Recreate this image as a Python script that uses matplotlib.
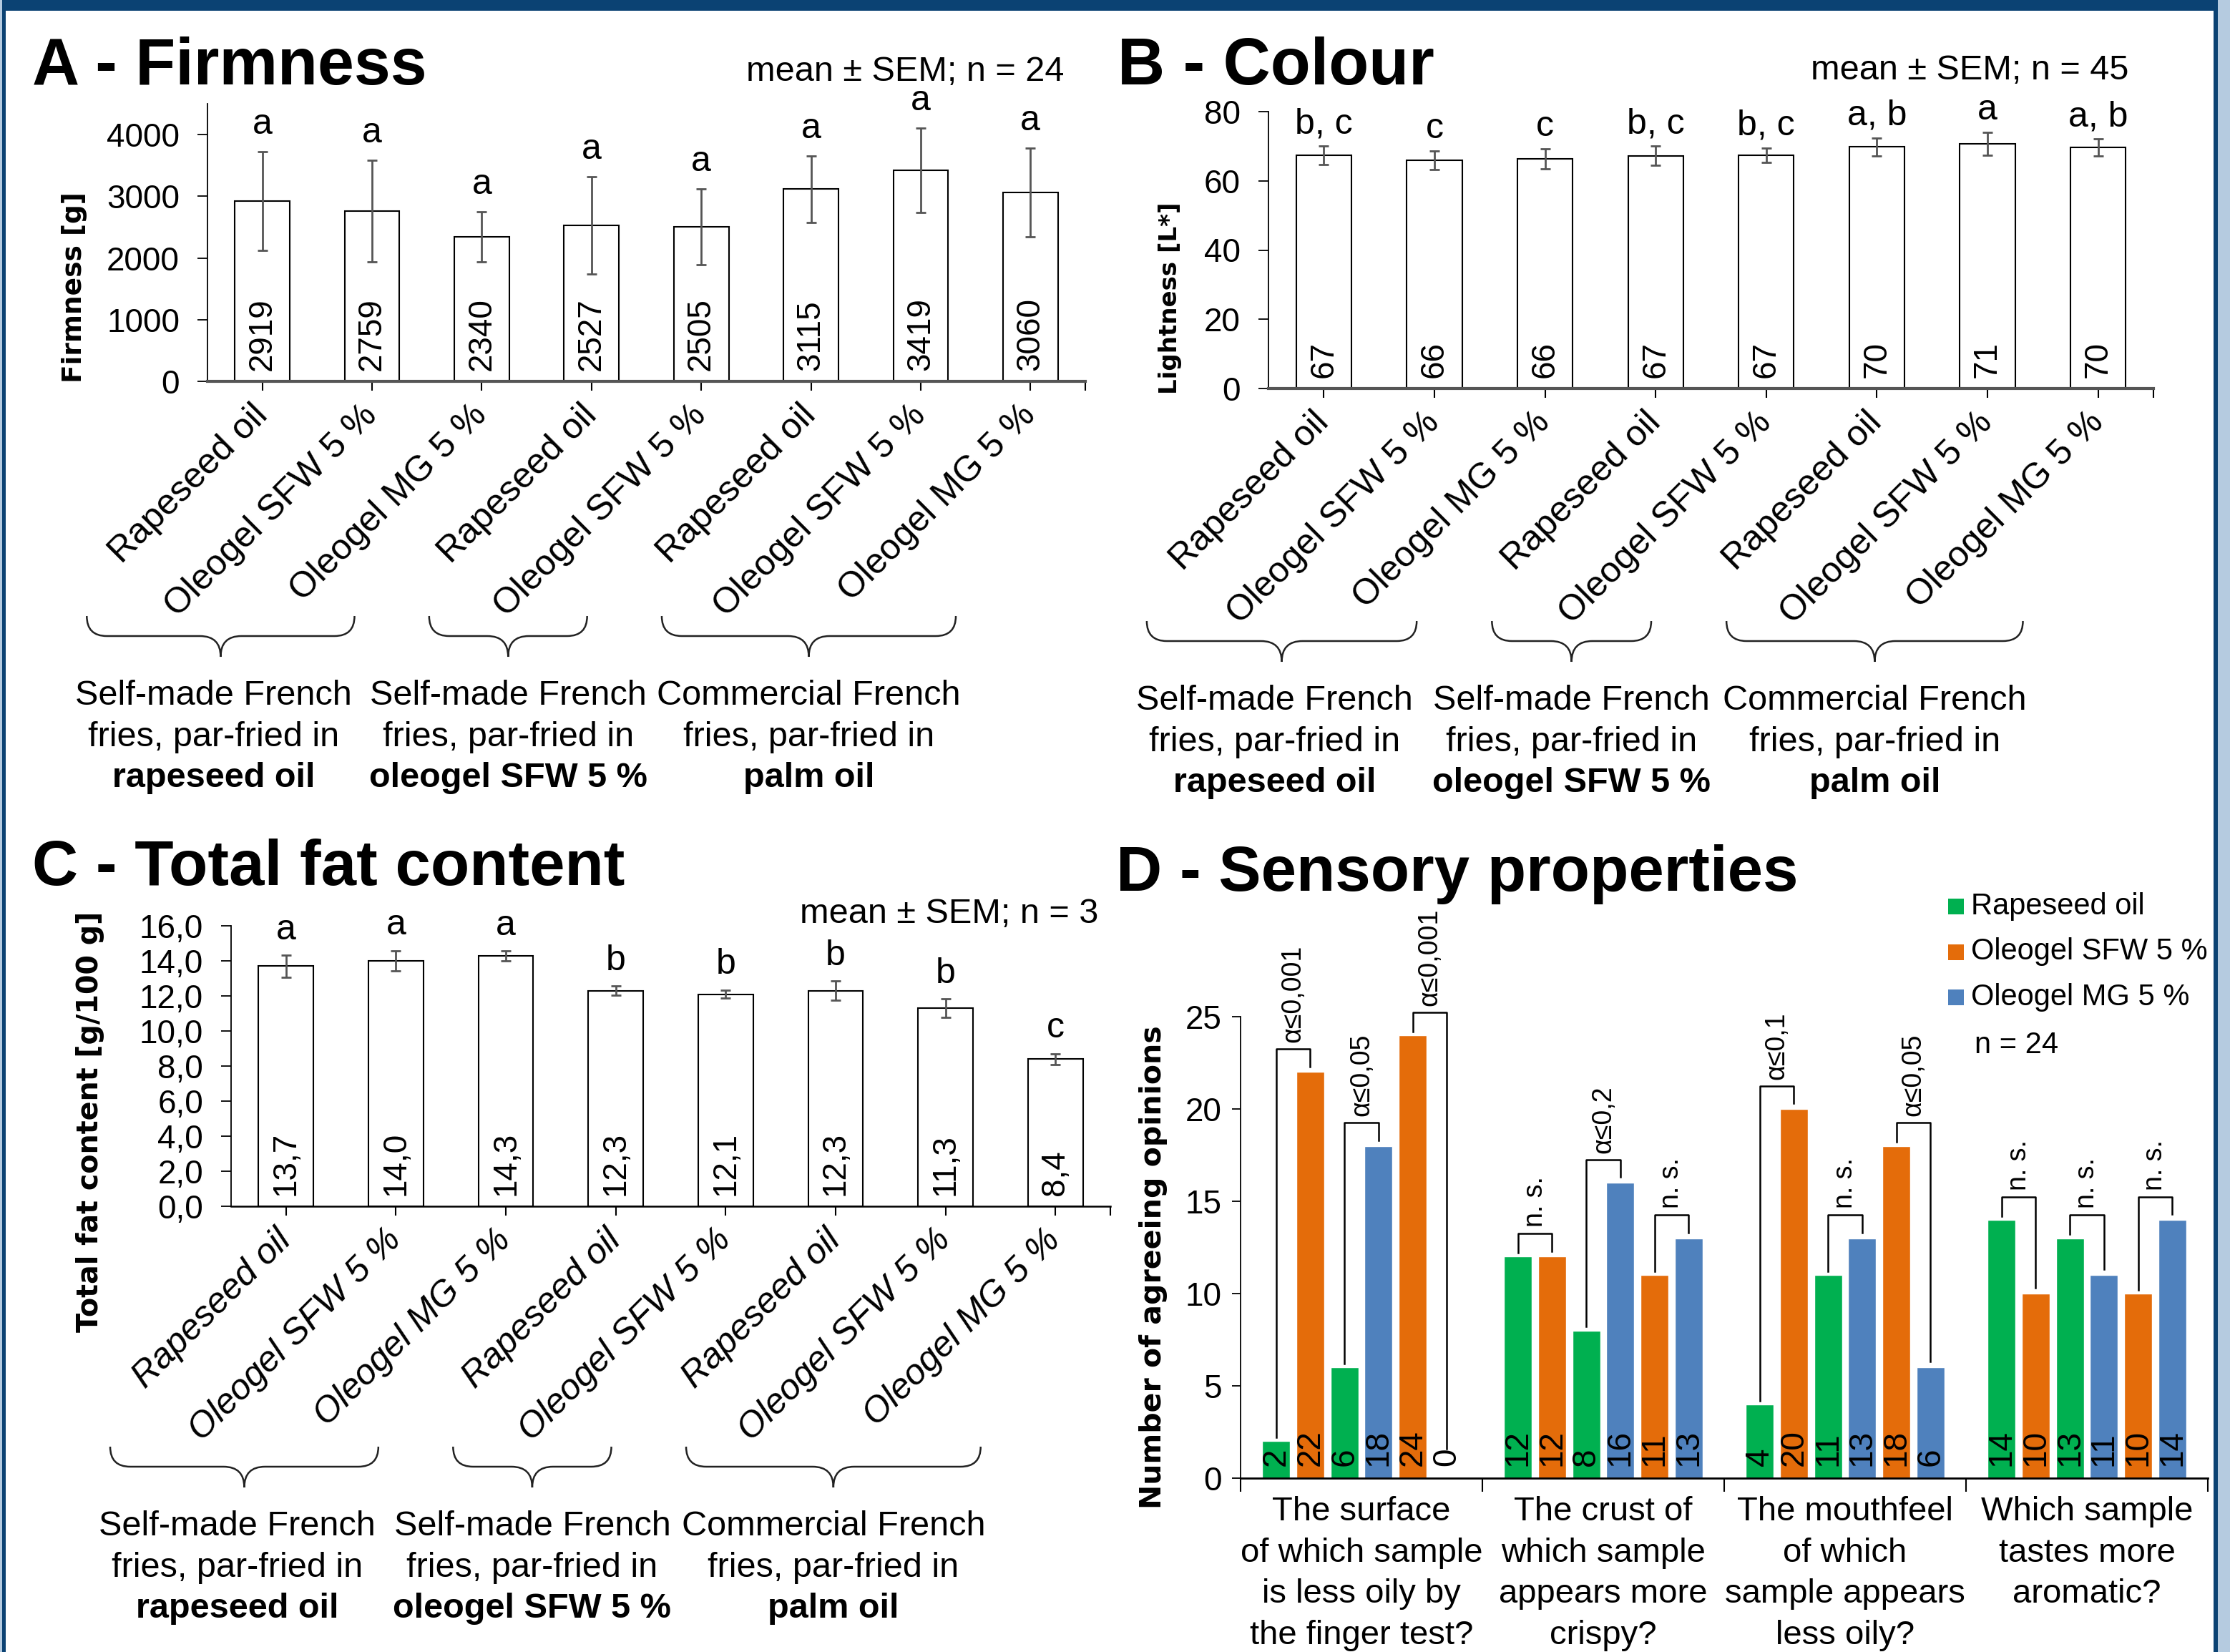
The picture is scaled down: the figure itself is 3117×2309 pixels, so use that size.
import numpy as np
import matplotlib
matplotlib.use('Agg')
import matplotlib.pyplot as plt
from matplotlib.patches import Rectangle, PathPatch
from matplotlib.path import Path

W, H = 3117, 2309
plt.rcParams['font.family'] = ['Liberation Sans', 'DejaVu Sans']
plt.rcParams['axes.linewidth'] = 1.3

# ---- data ----
samples = ['Rapeseed oil', 'Oleogel SFW 5 %', 'Oleogel MG 5 %',
           'Rapeseed oil', 'Oleogel SFW 5 %',
           'Rapeseed oil', 'Oleogel SFW 5 %', 'Oleogel MG 5 %']
group_first = ['Self-made French', 'Self-made French', 'Commercial French']
group_oil = ['rapeseed oil', 'oleogel SFW 5 %', 'palm oil']

firmness = [2919, 2759, 2340, 2527, 2505, 3115, 3419, 3060]
firmness_sem = [800, 820, 405, 785, 610, 540, 685, 720]
firmness_letters = ['a', 'a', 'a', 'a', 'a', 'a', 'a', 'a']

lightness = [67.4, 66.0, 66.4, 67.2, 67.4, 69.8, 70.7, 69.6]
lightness_sem = [2.6, 2.7, 2.9, 2.8, 2.1, 2.6, 3.3, 2.5]
lightness_letters = ['b, c', 'c', 'c', 'b, c', 'b, c', 'a, b', 'a', 'a, b']

fat = [13.7, 14.0, 14.3, 12.3, 12.1, 12.3, 11.3, 8.4]
fat_sem = [0.62, 0.59, 0.28, 0.27, 0.24, 0.56, 0.52, 0.31]
fat_letters = ['a', 'a', 'a', 'b', 'b', 'b', 'b', 'c']

questions = ['The surface\nof which sample\nis less oily by\nthe finger test?',
             'The crust of\nwhich sample\nappears more\ncrispy?',
             'The mouthfeel\nof which\nsample appears\nless oily?',
             'Which sample\ntastes more\naromatic?']
sensory_names = ['Rapeseed oil', 'Oleogel SFW 5 %', 'Oleogel MG 5 %']
sensory_colors = ['#00B050', '#E46C0A', '#4F81BD']
# pairwise tests: (rapeseed vs SFW), (rapeseed vs MG), (SFW vs MG)
rs_rape = [2, 12, 4, 14]
rs_sfw = [22, 12, 20, 10]
rm_rape = [6, 8, 11, 13]
rm_mg = [18, 16, 13, 11]
sm_sfw = [24, 11, 18, 10]
sm_mg = [0, 13, 6, 14]
sig_rs = ['α≤0,001', 'n. s.', 'α≤0,1', 'n. s.']
sig_rm = ['α≤0,05', 'α≤0,2', 'n. s.', 'n. s.']
sig_sm = ['α≤0,001', 'n. s.', 'α≤0,05', 'n. s.']

brace_spans = [(-1.6, 0.84), (1.52, 2.96), (3.64, 6.32)]

fig = plt.figure(figsize=(W / 100, H / 100), dpi=100)
fig.patch.set_facecolor('white')


def fx(x):
    return x / W


def fy(y):
    return 1 - y / H


def axes_px(l, t, r, b):
    return fig.add_axes([l / W, 1 - b / H, (r - l) / W, (b - t) / H])


# frame of the poster
dark = '#0b4273'
light = '#b5cbe0'
fig.add_artist(Rectangle((0, fy(15)), 1, 15 / H, transform=fig.transFigure, color=dark, lw=0))
fig.add_artist(Rectangle((0, 0), fx(3), 1, transform=fig.transFigure, color=light, lw=0))
fig.add_artist(Rectangle((fx(3), 0), fx(5), 1, transform=fig.transFigure, color=dark, lw=0))
fig.add_artist(Rectangle((fx(3094), 0), fx(6), 1, transform=fig.transFigure, color=dark, lw=0))
fig.add_artist(Rectangle((fx(3100), 0), fx(17), 1, transform=fig.transFigure, color=light, lw=0))


def brace(x0, x1, ytop, yline, ytip):
    xc = (x0 + x1) / 2
    r = yline - ytop
    m = ytip - yline
    pts = [(x0, ytop), (x0, yline), (x0 + r, yline), (xc - m, yline), (xc, yline), (xc, ytip),
           (xc, yline), (xc + m, yline), (x1 - r, yline), (x1, yline), (x1, ytop)]
    codes = [Path.MOVETO, Path.CURVE3, Path.CURVE3, Path.LINETO, Path.CURVE3, Path.CURVE3,
             Path.CURVE3, Path.CURVE3, Path.LINETO, Path.CURVE3, Path.CURVE3]
    path = Path([(fx(a), fy(b)) for a, b in pts], codes)
    fig.add_artist(PathPatch(path, transform=fig.transFigure, fill=False, lw=1.8, ec='#222222'))


def bar_panel(rect, vals, errs, letters, ymax, yticks, tickfmt, valfmt, italic, xlw, xcol,
              shift, letter_off):
    l, t, r, b = rect
    ax = axes_px(l, t, r, b)
    x = np.arange(len(vals))
    ax.bar(x, vals, width=0.5, color='white', edgecolor='black', linewidth=1.5, zorder=2)
    ax.errorbar(x, vals, yerr=errs, fmt='none', ecolor='#555555', elinewidth=2,
                capsize=5, capthick=2, zorder=3)
    for xi, v, e, lt in zip(x, vals, errs, letters):
        ax.annotate(lt, (xi, v + e), xytext=(0, letter_off), textcoords='offset points',
                    ha='center', va='baseline', fontsize=36)
        ax.annotate(valfmt(v), (xi, 0), xytext=(0, 11), textcoords='offset points',
                    ha='center', va='bottom', rotation=90, fontsize=33)
    ax.set_xlim(-0.5, 7.5)
    ax.set_ylim(0, ymax)
    ax.set_yticks(yticks)
    ax.set_yticklabels([tickfmt(v) for v in yticks], fontsize=33)
    ax.set_xticks(list(x) + [7.5])
    ax.set_xticklabels(samples + [''], rotation=45, ha='right', va='center',
                       rotation_mode='anchor', fontsize=36,
                       style='italic' if italic else 'normal')
    ax.tick_params(axis='y', length=10, width=1.3, pad=18)
    ax.tick_params(axis='x', length=9, width=1.5, pad=20)
    for s in ['top', 'right']:
        ax.spines[s].set_visible(False)
    ax.spines['bottom'].set_linewidth(xlw)
    ax.spines['bottom'].set_color(xcol)
    ax.spines['left'].set_linewidth(1.3)
    # braces with group names
    span = r - l
    for k, ((d0, d1), first, oil) in enumerate(zip(brace_spans, group_first, group_oil)):
        x0 = l + (d0 + 0.5) / 8 * span
        x1 = l + (d1 + 0.5) / 8 * span
        brace(x0, x1, b + 328 + shift, b + 356 + shift, b + 385 + shift)
        xc = (x0 + x1) / 2 - (10 if k == 0 else 0)
        fig.text(fx(xc), fy(b + 452 + shift), first, ha='center', va='baseline', fontsize=35)
        fig.text(fx(xc), fy(b + 510 + shift), 'fries, par-fried in', ha='center', va='baseline',
                 fontsize=35)
        fig.text(fx(xc), fy(b + 567 + shift), oil, ha='center', va='baseline', fontsize=35,
                 fontweight='bold')
    return ax


# ---- A - Firmness ----
bar_panel((290, 145, 1517, 533), firmness, firmness_sem, firmness_letters, 4500,
          [0, 1000, 2000, 3000, 4000], lambda v: f'{v:.0f}', lambda v: f'{v:.0f}',
          False, 3, '#555555', 0, 18)
fig.text(fx(45), fy(118), 'A - Firmness', fontsize=66, fontweight='bold', va='baseline')
fig.text(fx(1487), fy(113), 'mean ± SEM; n = 24', fontsize=35, ha='right', va='baseline')
fig.text(fx(104), fy(402), 'Firmness [g]', rotation=90, ha='center', va='center',
         fontsize=27, fontweight='bold', family='DejaVu Sans')

# ---- B - Colour ----
bar_panel((1773, 156, 3010, 543), lightness, lightness_sem, lightness_letters, 80,
          [0, 20, 40, 60, 80], lambda v: f'{v:.0f}', lambda v: f'{v:.0f}',
          False, 3, '#555555', -3, 13)
fig.text(fx(1562), fy(118), 'B - Colour', fontsize=66, fontweight='bold', va='baseline')
fig.text(fx(2975), fy(111), 'mean ± SEM; n = 45', fontsize=35, ha='right', va='baseline')
fig.text(fx(1636), fy(417), 'Lightness [L*]', rotation=90, ha='center', va='center',
         fontsize=24.5, fontweight='bold', family='DejaVu Sans')

# ---- C - Total fat content ----
bar_panel((323, 1294, 1552, 1686), fat, fat_sem, fat_letters, 16,
          [0, 2, 4, 6, 8, 10, 12, 14, 16], lambda v: f'{v:.1f}'.replace('.', ','),
          lambda v: f'{v:.1f}'.replace('.', ','), True, 1.8, 'black', 8, 16)
fig.text(fx(45), fy(1237), 'C - Total fat content', fontsize=64, fontweight='bold', va='baseline')
fig.text(fx(1535), fy(1290), 'mean ± SEM; n = 3', fontsize=35, ha='right', va='baseline')
fig.text(fx(126), fy(1568), 'Total fat content [g/100 g]', rotation=90, ha='center', va='center',
         fontsize=28.5, fontweight='bold', family='DejaVu Sans')

# ---- D - Sensory properties ----
axd = axes_px(1734, 1421, 3086, 2066)
offs = (np.arange(6) - 2.5) * 0.1412
bw = 0.1155
pairs = [(rs_rape, rs_sfw, 0, 1, sig_rs), (rm_rape, rm_mg, 0, 2, sig_rm), (sm_sfw, sm_mg, 1, 2, sig_sm)]
for p, (va_, vb_, ca, cb, sig) in enumerate(pairs):
    for g in range(4):
        xa = g + 0.5 + offs[2 * p]
        xb = g + 0.5 + offs[2 * p + 1]
        a, bb = va_[g], vb_[g]
        axd.bar([xa], [a], width=bw, color=sensory_colors[ca], edgecolor='white', lw=1, zorder=2)
        axd.bar([xb], [bb], width=bw, color=sensory_colors[cb], edgecolor='white', lw=1, zorder=2)
        for xx, v in ((xa, a), (xb, bb)):
            axd.annotate(str(v), (xx, 0), xytext=(0, 12), textcoords='offset points',
                         ha='center', va='bottom', rotation=90, fontsize=33, zorder=4)
        top = max(a, bb) + 1.25
        ya = max(a, 1.3) + 0.2
        yb = max(bb, 1.3) + 0.3
        axd.plot([xa, xa, xb, xb], [ya, top, top, yb], color='black', lw=1.8, clip_on=False, zorder=3)
        axd.text((xa + xb) / 2, top + 0.35, sig[g], rotation=90, ha='center', va='bottom',
                 fontsize=27)
axd.set_xlim(0, 4)
axd.set_ylim(0, 25)
axd.set_yticks([0, 5, 10, 15, 20, 25])
axd.set_yticklabels(['0', '5', '10', '15', '20', '25'], fontsize=33)
axd.set_xticks([0, 1, 2, 3, 4])
axd.set_xticklabels([])
axd.set_xticks([0.5, 1.5, 2.5, 3.5], minor=True)
axd.set_xticklabels(questions, minor=True, fontsize=34, linespacing=1.4)
axd.tick_params(axis='x', which='minor', length=0, pad=18)
axd.tick_params(axis='x', which='major', length=14, width=1.5)
axd.tick_params(axis='y', length=9, width=1.3, pad=10)
for s in ['top', 'right']:
    axd.spines[s].set_visible(False)
axd.spines['bottom'].set_linewidth(2)
fig.text(fx(1560), fy(1245), 'D - Sensory properties', fontsize=64, fontweight='bold', va='baseline')
fig.text(fx(1612), fy(1771), 'Number of agreeing opinions', rotation=90, ha='center', va='center',
         fontsize=29.5, fontweight='bold', family='DejaVu Sans')

# legend
for i, (name, col) in enumerate(zip(sensory_names, sensory_colors)):
    base = 1278 + i * 63.5
    fig.add_artist(Rectangle((fx(2723), fy(base)), 22 / W, 22 / H, transform=fig.transFigure,
                             color=col, lw=0))
    fig.text(fx(2755), fy(base), name, fontsize=30, va='baseline')
fig.text(fx(2760), fy(1472), 'n = 24', fontsize=30, va='baseline')

fig.savefig('out.png', dpi=100, facecolor='white')
